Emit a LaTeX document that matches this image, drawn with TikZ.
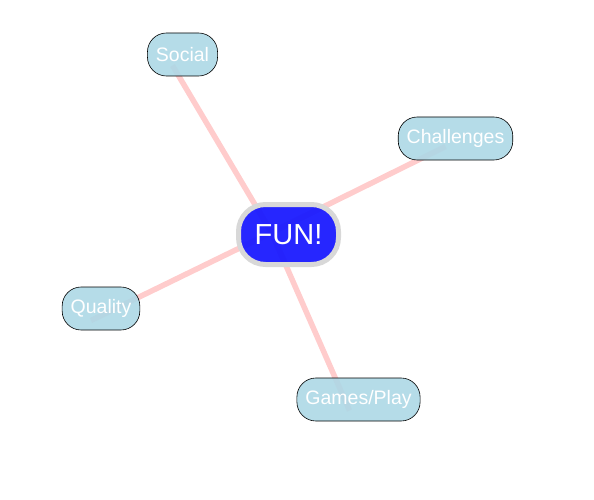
\documentclass[tikz,border=0pt]{standalone}
\usepackage{fontspec}
\setmainfont{Liberation Sans}
\usetikzlibrary{backgrounds}
\definecolor{linkpink}{RGB}{255,204,204}
\definecolor{topicblue}{RGB}{173,216,230}
\definecolor{funblue}{RGB}{26,26,255}
\definecolor{rimgray}{RGB}{216,216,216}

\begin{document}
\begin{tikzpicture}[x=1pt,y=-1pt,
  topic/.style={draw=black,line width=0.6pt,fill=topicblue,fill opacity=0.9,text opacity=1,
    text=white,rounded corners=19pt,minimum height=43pt,inner xsep=8.5pt,
    font=\fontsize{19.5}{21}\selectfont},
  hub/.style={draw=rimgray,line width=5pt,fill=funblue,fill opacity=0.95,draw opacity=1,text opacity=1,
    text=white,rounded corners=27pt,minimum width=100pt,minimum height=60pt,
    font=\fontsize{29}{32}\selectfont},
  link/.style={draw=linkpink,line width=5.5pt}]
\useasboundingbox (0,0) rectangle (594,500);
\node[hub] (fun) at (288.5,234.5) {FUN!};

\node[topic] (social) at (182.5,54.5) {Social};
\node[topic] (challenges) at (455.5,138.5) {Challenges};
\node[topic] (quality) at (101,308.5) {Quality};
\node[topic] (games) at (358.5,399.5) {Games/Play};

%links behind the nodes
\begin{scope}[on background layer]
\draw[link] ([shift={(-17,-2)}]fun.center) to ([shift={(-10,11)}]social.center);
\draw[link] ([shift={(-17,-2)}]fun.center) to ([shift={(-10,8)}]challenges.center);
\draw[link] ([shift={(-17,-2)}]fun.center) to ([shift={(-10,12)}]quality.center);
\draw[link] ([shift={(-17,-2)}]fun.center) to ([shift={(-9,11)}]games.center);
\end{scope}
\end{tikzpicture}
\end{document}
